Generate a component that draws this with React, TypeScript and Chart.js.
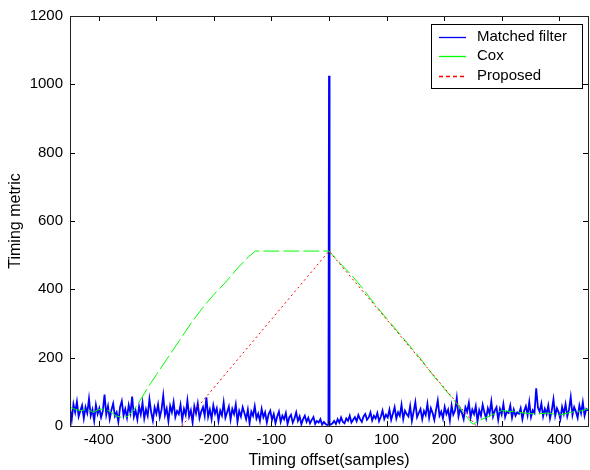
import React, { useEffect, useRef } from "react";
import { Chart, registerables } from "chart.js";
Chart.register(...registerables);

const X_TICKS = [-400, -300, -200, -100, 0, 100, 200, 300, 400];
const Y_TICKS = [0, 200, 400, 600, 800, 1000, 1200];
const X_MIN = -450;
const X_MAX = 450;
const Y_MIN = 0;
const Y_MAX = 1200;

const SERIES_LABELS = ["Matched filter", "Cox", "Proposed"];

// Matched filter: samples from -450 to 450, every 3 samples
const MF_START = -450;
const MF_STEP = 3;
const matchedFilter = [
  // -450 .. -102
  52, 18, 64, 40, 71, 28, 45, 60, 22, 55, 38, 80, 30, 48, 15, 62, 35, 52, 25, 44,
  92, 33, 58, 20, 47, 66, 29, 40, 12, 55, 73, 31, 50, 24, 61, 38, 86, 27, 45, 19,
  57, 34, 68, 22, 49, 30, 78, 41, 16, 54, 36, 63, 25, 47, 89, 32, 51, 14, 59, 40,
  70, 26, 44, 35, 62, 18, 50, 33, 75, 28, 46, 10, 58, 37, 66, 23, 42, 55, 30, 84,
  27, 48, 20, 60, 36, 52, 15, 45, 31, 69, 24, 40, 57, 19, 50, 35, 63, 12, 44, 28,
  55, 38, 20, 48, 8, 42, 30, 58, 22, 36, 15, 50, 26, 40, 10, 34, 45,
  // -99 .. -3
  18, 35, 8, 28, 42, 12, 30, 20, 38, 6, 25, 33, 10, 22, 40, 15, 28, 5, 20, 30,
  12, 24, 8, 18, 26, 6, 15, 10, 20, 4, 12, 6, 3,
  // 0
  1025,
  // 3 .. 99
  4, 8, 15, 6, 20, 10, 25, 12, 8, 22, 15, 30, 10, 18, 26, 14, 32, 20, 12, 28,
  35, 18, 25, 40, 16, 30, 22, 38, 14, 27, 45, 20, 33,
  // 102 .. 450
  25, 48, 18, 36, 55, 22, 40, 30, 62, 20, 45, 35, 28, 58, 15, 42, 70, 26, 38, 50,
  20, 44, 32, 65, 24, 52, 38, 18, 47, 75, 30, 42, 22, 56, 35, 48, 16, 60, 33, 45,
  82, 28, 50, 38, 20, 55, 42, 68, 25, 48, 35, 58, 14, 46, 30, 62, 40, 22, 52, 36,
  72, 28, 45, 55, 18, 50, 34, 64, 26, 42, 38, 60, 24, 48, 30, 40, 36, 52, 20, 44,
  58, 32, 70, 26, 46, 38, 110, 54, 42, 66, 28, 50, 35, 60, 22, 45, 78, 30, 52, 40,
  20, 56, 36, 64, 28, 48, 85, 32, 55, 42, 24, 60, 38, 70, 30, 50, 45,
];
const spikeEdgeX = [-1, 1];
const spikeEdgeY = [4, 4];

const coxX = [
  -450, -440, -430, -420, -410, -400, -390, -380, -370, -360, -350, -340, -330, -310,
  -300, -280, -260, -240, -220, -200, -180, -160, -140, -128, 0, 20, 40, 60, 80, 100,
  120, 140, 160, 180, 200, 220, 240, 250, 260, 280, 300, 320, 340, 360, 380, 400, 420,
  440, 450,
];
const coxY = [
  55, 48, 45, 50, 40, 48, 50, 42, 30, 25, 28, 45, 70, 125, 150, 200, 250, 300, 345,
  385, 420, 460, 495, 512, 512, 475, 440, 400, 355, 315, 275, 235, 195, 150, 110, 70,
  25, 5, 15, 30, 45, 42, 38, 35, 38, 32, 40, 45, 50,
];

const proposedX = [-256, 0, 256];
const proposedY = [0, 512, 0];

const COLORS = ["#0000ff", "#00ff00", "#ff0000"];
const FONT = "'Liberation Sans', Arial, sans-serif";

function buildMatched() {
  const pts = matchedFilter.map((v, i) => ({ x: MF_START + i * MF_STEP, y: v }));
  spikeEdgeX.forEach((x, i) => pts.push({ x, y: spikeEdgeY[i] }));
  pts.sort((a, b) => a.x - b.x);
  return pts;
}

const frameTicksPlugin = {
  id: "frameTicks",
  afterDatasetsDraw(chart: any) {
    const { ctx, chartArea: a, scales } = chart;
    ctx.save();
    ctx.strokeStyle = "#000";
    ctx.lineWidth = 1;
    ctx.beginPath();
    const L = 5;
    X_TICKS.forEach((v) => {
      const px = Math.round(scales.x.getPixelForValue(v)) + 0.5;
      ctx.moveTo(px, a.bottom);
      ctx.lineTo(px, a.bottom - L);
      ctx.moveTo(px, a.top);
      ctx.lineTo(px, a.top + L);
    });
    Y_TICKS.forEach((v) => {
      const py = Math.round(scales.y.getPixelForValue(v)) + 0.5;
      ctx.moveTo(a.left, py);
      ctx.lineTo(a.left + L, py);
      ctx.moveTo(a.right, py);
      ctx.lineTo(a.right - L, py);
    });
    ctx.stroke();
    ctx.strokeStyle = "#222";
    ctx.strokeRect(
      Math.round(a.left) + 0.5,
      Math.round(a.top) + 0.5,
      Math.round(a.right - a.left),
      Math.round(a.bottom - a.top)
    );
    ctx.restore();

    // legend
    const ds = chart.data.datasets;
    const w = 151;
    const h = 64;
    const bx = Math.round(a.right) - 6 - w;
    const by = Math.round(a.top) + 8;
    ctx.save();
    ctx.fillStyle = "#fff";
    ctx.fillRect(bx, by, w, h);
    ctx.strokeStyle = "#000";
    ctx.lineWidth = 1;
    ctx.strokeRect(bx + 0.5, by + 0.5, w, h);
    ctx.font = `15px ${FONT}`;
    ctx.textBaseline = "middle";
    ds.forEach((d: any, i: number) => {
      const y = by + 12.5 + i * 19.5;
      ctx.beginPath();
      ctx.strokeStyle = COLORS[i];
      ctx.lineWidth = 1.3;
      ctx.setLineDash(i === 2 ? [4, 3] : []);
      ctx.moveTo(bx + 8, Math.round(y) + 0.5);
      ctx.lineTo(bx + 35, Math.round(y) + 0.5);
      ctx.stroke();
      ctx.setLineDash([]);
      ctx.fillStyle = "#000";
      ctx.fillText(d.label, bx + 46, y);
    });
    ctx.restore();
  },
};

export default function App() {
  const ref = useRef<HTMLCanvasElement>(null);
  useEffect(() => {
    document.body.style.margin = "0";
    const c = ref.current!;
    const chart = new Chart(c, {
      type: "line",
      data: {
        datasets: [
          {
            label: SERIES_LABELS[0],
            data: buildMatched(),
            borderColor: COLORS[0],
            borderWidth: 1.8,
            pointRadius: 0,
            order: 3,
          },
          {
            label: SERIES_LABELS[1],
            data: coxX.map((x, i) => ({ x, y: coxY[i] })),
            borderColor: COLORS[1],
            borderWidth: 1,
            borderDash: [16, 4],
            pointRadius: 0,
            order: 2,
          },
          {
            label: SERIES_LABELS[2],
            data: proposedX.map((x, i) => ({ x, y: proposedY[i] })),
            borderColor: COLORS[2],
            borderWidth: 1,
            borderDash: [2, 3],
            pointRadius: 0,
            order: 1,
          },
        ],
      },
      options: {
        animation: false,
        responsive: false,
        layout: { padding: { top: 13, right: 2, left: 0, bottom: 0 } },
        plugins: { legend: { display: false }, tooltip: { enabled: false } },
        scales: {
          x: {
            type: "linear",
            min: X_MIN,
            max: X_MAX,
            afterBuildTicks: (s: any) => {
              s.ticks = X_TICKS.map((v) => ({ value: v }));
            },
            afterFit: (s: any) => {
              s.height = 44;
            },
            grid: { display: false, drawTicks: false },
            border: { display: false },
            ticks: {
              color: "#000",
              font: { family: FONT, size: 15 },
              padding: 5,
              maxRotation: 0,
              callback: (v: any) => String(v),
            },
            title: {
              display: true,
              text: "Timing offset(samples)",
              color: "#000",
              font: { family: FONT, size: 16 },
              padding: { top: 0, bottom: 0 },
            },
          },
          y: {
            type: "linear",
            min: Y_MIN,
            max: Y_MAX,
            afterBuildTicks: (s: any) => {
              s.ticks = Y_TICKS.map((v) => ({ value: v }));
            },
            afterFit: (s: any) => {
              s.width = 70;
            },
            grid: { display: false, drawTicks: false },
            border: { display: false },
            ticks: {
              color: "#000",
              font: { family: FONT, size: 15 },
              padding: 7,
              callback: (v: any) => String(v),
            },
            title: {
              display: true,
              text: "Timing metric",
              color: "#000",
              font: { family: FONT, size: 16 },
              padding: { top: 6, bottom: 0 },
            },
          },
        },
      },
      plugins: [frameTicksPlugin],
    });
    return () => chart.destroy();
  }, []);
  return (
    <div style={{ width: 590, height: 470, background: "#fff" }}>
      <canvas ref={ref} width={590} height={470} />
    </div>
  );
}
